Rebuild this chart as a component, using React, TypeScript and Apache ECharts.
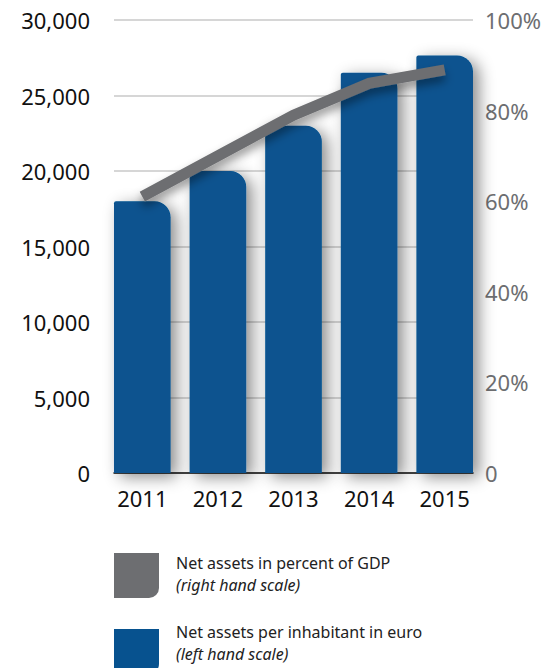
import React, { useEffect, useRef } from "react";
import * as echarts from "echarts";

const years = [2011, 2012, 2013, 2014, 2015];
const perInhabitant = [18000, 20000, 23000, 26500, 27650];
const percentOfGDP = [61, 70, 79, 86, 89];
const leftTicks = { min: 0, max: 30000, interval: 5000 };
const rightTicks = { min: 0, max: 100, interval: 20 };
const legendLabels = [
  ["Net assets in percent of GDP", "(right hand scale)"],
  ["Net assets per inhabitant in euro", "(left hand scale)"],
];

const BLUE = "#07528f";
const GREY = "#6d6e71";
const FONT = "'Noto Sans', sans-serif";

export default function App() {
  const ref = useRef<HTMLDivElement>(null);
  useEffect(() => {
    if (!ref.current) return;
    const chart = echarts.init(ref.current, undefined, { renderer: "svg" });
    const half = 0.3743;
    chart.setOption({
      animation: false,
      backgroundColor: "#ffffff",
      grid: { left: 114, right: 82, top: 20, bottom: 195 },
      xAxis: {
        type: "value",
        min: years[0] - half,
        max: years[years.length - 1] + half,
        splitLine: { show: false },
        axisTick: { show: false },
        axisLine: { show: true, lineStyle: { color: "#111111", width: 1.5 } },
        axisLabel: {
          customValues: years,
          formatter: (v: number) => String(v),
          fontSize: 22,
          fontFamily: FONT,
          color: "#111111",
          margin: 14,
        },
      },
      yAxis: [
        {
          type: "value",
          ...leftTicks,
          axisLine: { show: false },
          axisTick: { show: false },
          splitLine: { lineStyle: { color: "#c8c8c8", width: 1.5 } },
          axisLabel: {
            fontSize: 22,
            fontFamily: FONT,
            color: "#111111",
            margin: 24,
            padding: [8, 0, 0, 0],
          },
        },
        {
          type: "value",
          ...rightTicks,
          position: "right",
          axisLine: { show: false },
          axisTick: { show: false },
          splitLine: { show: false },
          axisLabel: {
            fontSize: 22,
            fontFamily: FONT,
            color: GREY,
            margin: 12,
            padding: [10, 0, 0, 0],
            formatter: (v: number) => (v === 0 ? "0" : v + "%"),
          },
        },
      ],
      series: [
        {
          type: "bar",
          yAxisIndex: 0,
          barWidth: 56.6,
          data: years.map((y, i) => [y, perInhabitant[i]]),
          itemStyle: {
            color: BLUE,
            borderRadius: [2, 16, 0, 0],
            shadowBlur: 16,
            shadowColor: "rgba(0,0,0,0.45)",
            shadowOffsetX: 6,
            shadowOffsetY: 4,
          },
          z: 2,
        },
        {
          type: "line",
          yAxisIndex: 1,
          data: years.map((y, i) => [y, percentOfGDP[i]]),
          symbol: "none",
          lineStyle: {
            color: GREY,
            width: 11,
            cap: "butt",
            join: "miter",
            shadowBlur: 10,
            shadowColor: "rgba(0,0,0,0.4)",
            shadowOffsetY: 6,
          },
          z: 3,
        },
      ],
      graphic: [
        {
          type: "rect",
          shape: { x: 114, y: 553, width: 45, height: 45, r: [0, 0, 10, 0] },
          style: { fill: GREY },
        },
        {
          type: "rect",
          shape: { x: 114, y: 629, width: 45, height: 45, r: [0, 0, 10, 0] },
          style: { fill: BLUE },
        },
        {
          type: "text",
          x: 176,
          y: 563,
          style: { text: legendLabels[0][0], font: `16px ${FONT}`, fill: "#222222", verticalAlign: "middle" },
        },
        {
          type: "text",
          x: 176,
          y: 585,
          style: { text: legendLabels[0][1], font: `italic 16px ${FONT}`, fill: "#222222", verticalAlign: "middle" },
        },
        {
          type: "text",
          x: 176,
          y: 632,
          style: { text: legendLabels[1][0], font: `16px ${FONT}`, fill: "#222222", verticalAlign: "middle" },
        },
        {
          type: "text",
          x: 176,
          y: 654,
          style: { text: legendLabels[1][1], font: `italic 16px ${FONT}`, fill: "#222222", verticalAlign: "middle" },
        },
      ],
    });
    return () => chart.dispose();
  }, []);
  return (
    <div
      ref={ref}
      style={{ position: "fixed", left: 0, top: 0, width: 555, height: 668 }}
    />
  );
}
